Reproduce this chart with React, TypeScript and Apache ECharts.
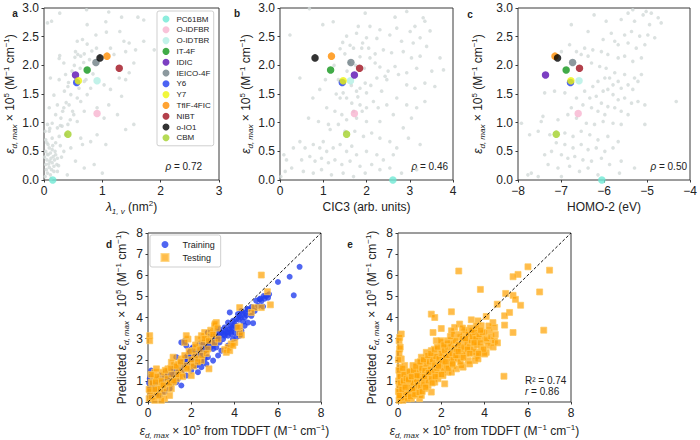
import React, { useEffect, useRef } from 'react';
import * as echarts from 'echarts';

// ---------- data ----------
const molecules = ['PC61BM', 'O-IDFBR', 'O-IDTBR', 'IT-4F', 'IDIC', 'IEICO-4F', 'Y6', 'Y7', 'TfIF-4FIC', 'NIBT', 'o-IO1', 'CBM'];
const epsMax = [0.0, 1.16, 1.73, 1.92, 1.83, 2.05, 1.70, 1.73, 2.16, 1.95, 2.13, 0.80];
const lambda1v = [0.15, 0.91, 0.91, 0.74, 0.54, 0.89, 0.56, 0.59, 1.08, 1.29, 0.96, 0.41];
const cic3 = [2.61, 1.72, 1.63, 1.17, 1.72, 1.64, 1.44, 1.46, 1.19, 1.84, 0.81, 1.54];
const homo2 = [-6.05, -6.60, -6.58, -6.88, -7.36, -6.73, -6.78, -6.77, -7.14, -6.57, -7.08, -7.11];
const moleculeColors = ['#6fe9d5', '#f7b4cf', '#b3efe4', '#12961a', '#5b0fb3', '#6f7f86', '#1f3cf0', '#eef50a', '#ff8c00', '#a0101e', '#000000', '#a3d12a'];

const rhoLabels = ['0.72', '0.46', '0.50'];
const r2Label = '0.74';
const rLabel = '0.86';

const lambdaBackground = [
  [0.27,2.91],[0.73,2.97],[1.11,2.93],[1.33,2.84],[1.61,2.84],[0.06,2.74],[0.13,2.77],[1.06,2.76],[1.71,2.79],[0.74,2.71],[0.89,2.53],[1.07,2.58],[1.30,2.59],[1.71,2.42],[1.89,2.27],[0.57,2.42],[0.66,2.45],[0.74,2.37],[1.37,2.42],[1.46,2.39],[1.57,2.27],[0.27,2.17],[0.26,2.12],[0.54,2.24],[0.58,2.19],[0.63,2.16],[0.69,2.20],[0.53,2.14],[0.34,2.04],[1.14,2.30],[1.20,2.19],[1.40,2.24],[1.54,2.04],[1.46,1.87],[1.29,1.78],[1.40,1.75],[0.11,1.78],[0.26,1.75],[0.37,1.84],[0.41,1.63],[0.46,1.49],[0.69,1.72],[0.80,1.60],[1.03,1.66],[1.14,1.58],[1.33,1.46],[0.57,1.43],[0.63,1.37],[0.74,1.49],[0.17,1.48],[0.09,1.26],[0.23,1.31],[0.34,1.26],[0.43,1.31],[0.49,1.20],[0.51,1.14],[0.29,1.08],[0.20,1.14],[0.57,1.02],[0.69,1.20],[0.91,1.26],[1.11,1.31],[1.03,1.08],[1.26,1.14],[1.40,0.88],[1.54,0.97],[0.06,0.97],[0.14,0.99],[0.23,0.91],[0.31,0.94],[0.41,0.97],[0.37,0.79],[0.26,0.76],[0.14,0.73],[0.09,0.85],[0.03,0.70],[0.63,0.73],[0.66,0.62],[0.80,0.67],[0.91,0.79],[1.06,0.62],[0.46,0.56],[0.34,0.50],[0.54,0.33],[0.69,0.21],[0.86,0.27],[1.00,0.12],[0.40,0.09],[0.23,0.15],[0.03,0.50],[0.07,0.44],[0.11,0.47],[0.16,0.41],[0.20,0.44],[0.05,0.35],[0.10,0.33],[0.14,0.30],[0.18,0.35],[0.23,0.38],[0.03,0.27],[0.09,0.22],[0.13,0.18],[0.17,0.24],[0.06,0.12],[0.02,0.06],[0.11,0.09],[0.17,0.15],[0.22,0.27],[0.09,0.56],[0.14,0.53],[0.07,0.62],[0.01,0.40],[0.04,0.18],[0.12,0.38],[0.08,0.28],[0.19,0.50],[0.15,0.60],[0.05,0.65],[0.02,0.85],[0.10,0.90],[0.20,0.65],[0.28,0.60],[0.30,0.40],[0.25,0.25],[0.12,0.02],[0.06,0.45],[0.35,1.55],[0.42,1.70],[0.48,1.90],[0.52,2.00],[0.62,1.95],[0.68,2.05],[0.78,2.10],[0.82,2.25],[0.90,2.30],[0.95,2.15],[0.72,1.75],[0.84,1.85],[0.60,1.60],[0.55,1.75],[0.38,1.35],[0.32,1.20],[0.45,1.05],[0.28,0.95]
];

const cic3Background = [
  [0.68,2.99],[1.97,2.91],[2.66,2.84],[2.93,2.94],[3.31,2.83],[3.35,2.77],[1.23,2.76],[0.99,2.71],[1.81,2.68],[2.08,2.68],[2.31,2.62],[2.70,2.65],[3.01,2.59],[3.12,2.68],[3.47,2.60],[0.23,2.53],[1.54,2.51],[1.77,2.56],[2.00,2.48],[2.24,2.47],[2.54,2.53],[2.81,2.42],[3.08,2.39],[3.24,2.48],[3.39,2.33],[1.91,2.39],[1.89,2.30],[1.62,2.35],[1.39,2.29],[2.39,2.27],[2.58,2.22],[2.85,2.24],[3.04,2.13],[3.24,2.16],[3.70,2.13],[2.08,2.13],[2.20,2.04],[2.31,1.97],[2.50,1.90],[2.66,1.98],[2.74,1.84],[2.93,1.87],[3.16,1.95],[3.51,1.90],[3.78,1.92],[3.58,1.63],[3.35,1.69],[3.12,1.60],[2.93,1.66],[0.46,1.78],[2.43,1.81],[2.47,1.75],[2.24,1.78],[1.97,1.69],[2.00,1.52],[1.85,1.60],[1.77,1.55],[1.46,1.52],[1.39,1.43],[1.54,1.43],[1.66,1.34],[1.85,1.31],[2.00,1.26],[2.16,1.37],[2.27,1.26],[2.47,1.31],[2.70,1.43],[2.93,1.31],[3.16,1.26],[3.35,1.37],[0.76,1.43],[0.92,1.58],[1.08,1.26],[1.27,1.20],[1.43,1.14],[1.54,1.05],[1.77,1.08],[2.00,1.02],[2.31,1.02],[2.62,1.14],[2.85,0.91],[3.04,1.08],[0.66,1.08],[0.89,1.02],[1.12,0.97],[1.16,0.88],[1.35,0.97],[1.50,0.85],[1.73,0.85],[1.93,0.76],[2.12,0.82],[2.31,0.73],[2.54,0.67],[2.70,0.56],[2.97,0.73],[3.24,0.62],[0.46,0.67],[0.31,0.56],[0.58,0.56],[0.77,0.62],[0.92,0.56],[1.00,0.67],[1.08,0.50],[1.23,0.56],[1.39,0.62],[1.54,0.50],[1.66,0.59],[1.77,0.44],[2.00,0.50],[2.24,0.44],[2.39,0.35],[2.62,0.44],[0.09,0.44],[0.15,0.35],[0.50,0.35],[0.69,0.41],[0.81,0.33],[0.96,0.38],[1.12,0.30],[1.27,0.35],[1.43,0.27],[1.62,0.33],[1.85,0.24],[2.12,0.27],[2.31,0.18],[2.54,0.21],[2.81,0.12],[3.16,0.18],[0.27,0.21],[0.54,0.15],[0.77,0.12],[0.96,0.18],[1.19,0.09],[1.46,0.12],[1.70,0.06],[1.97,0.12],[0.02,0.06],[0.12,0.15],[1.50,2.20],[1.60,2.05],[1.70,2.30],[1.75,2.00],[1.85,2.15],[1.55,1.90],[1.95,1.95],[2.05,2.30],[1.45,2.40],[1.65,1.65],[1.80,1.45],[1.90,1.20],[1.35,1.75],[1.25,2.00],[1.05,1.75],[1.30,1.50],[1.70,1.20],[2.10,1.65],[2.20,2.20],[2.35,1.55]
];

const homo2Background = [
  [-6.23,2.88],[-5.44,2.91],[-5.33,2.97],[-5.09,2.88],[-5.02,2.94],[-4.90,2.91],[-4.74,2.83],[-4.67,2.74],[-6.76,2.71],[-5.95,2.77],[-5.60,2.80],[-5.29,2.77],[-4.94,2.71],[-6.37,2.59],[-5.83,2.56],[-5.52,2.53],[-5.36,2.59],[-5.17,2.51],[-4.98,2.53],[-4.82,2.48],[-6.02,2.45],[-5.75,2.42],[-5.67,2.36],[-5.44,2.39],[-5.25,2.30],[-5.05,2.36],[-6.80,2.36],[-6.45,2.30],[-6.64,2.24],[-6.53,2.19],[-6.37,2.16],[-6.26,2.27],[-6.06,2.24],[-5.91,2.19],[-5.67,2.13],[-5.52,2.16],[-5.33,2.07],[-5.13,2.13],[-6.99,2.24],[-6.29,2.04],[-6.10,1.98],[-5.95,1.95],[-5.75,1.87],[-5.52,1.84],[-5.29,1.78],[-5.13,1.84],[-5.98,1.78],[-5.87,1.78],[-5.79,1.66],[-5.67,1.72],[-5.60,1.60],[-5.44,1.66],[-5.33,1.58],[-5.21,1.72],[-6.14,1.72],[-6.26,1.63],[-6.02,1.55],[-5.91,1.58],[-5.79,1.49],[-5.67,1.40],[-5.52,1.43],[-5.36,1.34],[-5.21,1.37],[-5.05,1.31],[-4.32,1.37],[-6.45,1.55],[-6.33,1.43],[-6.18,1.46],[-6.06,1.34],[-5.91,1.28],[-5.75,1.26],[-5.60,1.20],[-5.44,1.14],[-5.98,1.14],[-6.14,1.20],[-6.29,1.26],[-6.49,1.31],[-6.64,1.43],[-6.76,1.26],[-6.91,1.52],[-7.15,1.55],[-7.38,1.52],[-7.42,1.11],[-7.46,1.02],[-7.07,1.05],[-6.84,1.14],[-6.64,1.08],[-6.41,0.99],[-6.22,0.97],[-6.02,1.02],[-5.79,0.99],[-5.60,0.97],[-5.05,0.97],[-7.92,0.99],[-7.73,0.79],[-7.53,0.85],[-7.26,0.79],[-6.91,0.82],[-6.72,0.76],[-6.53,0.85],[-6.33,0.79],[-6.14,0.70],[-5.91,0.76],[-5.67,0.67],[-7.11,0.65],[-6.91,0.62],[-6.72,0.56],[-6.53,0.62],[-6.37,0.53],[-6.18,0.56],[-5.98,0.50],[-5.79,0.56],[-7.38,0.44],[-7.22,0.50],[-6.99,0.44],[-6.84,0.38],[-6.68,0.41],[-6.49,0.35],[-6.29,0.33],[-6.06,0.38],[-5.87,0.27],[-5.60,0.33],[-7.30,0.27],[-7.07,0.21],[-6.80,0.24],[-6.57,0.15],[-6.37,0.21],[-6.14,0.09],[-7.69,0.12],[-7.53,0.06],[-7.77,0.09],[-5.64,0.12],[-5.29,0.21],[-6.99,0.06]
];

const trainingPoints = [
  [7.01,6.40],[6.55,5.93],[6.74,5.05],[6.01,5.68],[5.36,5.02],[5.16,4.86],[5.32,4.52],[5.47,5.02],[4.62,4.39],[4.86,3.73],[4.47,4.00],[4.39,4.24],[4.24,4.08],[3.78,4.24],[4.08,3.92],[4.47,3.61],[4.24,3.29],[4.01,3.29],[3.85,3.33],[3.93,3.84],[3.70,3.76],[3.55,3.53],[3.39,3.29],[3.24,3.14],[3.08,2.98],[3.31,2.82],[3.01,2.67],[2.77,3.29],[2.85,2.82],[2.70,2.67],[2.62,2.43],[2.47,2.59],[2.31,2.43],[2.47,2.20],[2.16,2.35],[2.00,2.51],[1.85,2.20],[2.00,2.04],[1.70,1.96],[1.54,2.82],[1.77,2.67],[1.62,1.73],[1.46,1.57],[1.31,2.12],[1.23,1.73],[1.08,1.41],[0.92,1.25],[0.77,1.33],[0.62,1.10],[0.46,0.94],[0.31,1.10],[0.15,1.49],[0.08,1.10],[0.23,0.78],[0.39,0.63],[0.69,0.71],[1.00,0.63],[1.39,1.10],[1.54,0.78],[2.31,1.41],[2.24,1.73],[2.47,1.88],[2.62,2.04],[2.77,2.12],[3.01,2.51],[3.16,2.59],[3.47,2.98],[3.62,3.29],[3.78,3.45],[3.93,3.61],[4.08,3.53],[4.16,4.16],[4.32,4.31],[4.55,4.11],[3.85,3.22],[3.70,3.14],[3.55,3.14],[3.16,3.37],[2.93,3.14],[2.70,2.98],[2.54,2.82],[2.39,2.75],[2.08,2.59],[1.93,2.35],[1.77,2.12],[1.54,1.88],[1.39,1.73],[1.16,1.57],[0.85,1.41],[0.54,1.25],[0.39,1.02],[0.15,0.63],[0.08,0.47],[0.28,0.39],[0.54,0.31],[0.77,0.47],[1.08,0.86],[1.31,0.94],[1.77,1.25],[2.00,1.49],[2.16,1.73],[2.47,1.65],[2.70,1.80],[3.01,1.96],[3.24,2.20],[3.39,2.43],[3.70,2.67],[3.93,2.98],[4.08,3.06],[4.24,3.14],[4.32,3.37],[4.62,3.76],[4.78,4.08],[4.93,4.31],[5.09,4.55],[5.24,4.78],[5.55,4.94],[5.39,4.89],
  [0.10,0.30],[0.20,0.60],[0.30,0.80],[0.50,0.60],[0.60,0.90],[0.70,1.00],[0.80,1.10],[0.90,0.90],[1.00,1.20],[1.10,1.00],[1.20,1.30],[1.30,1.50],[1.40,1.40],[1.50,1.60],[1.60,1.50],[1.70,1.80],[1.80,1.90],[1.90,1.70],[2.00,2.10],[2.10,2.00],[2.20,2.20],[2.30,2.10],[2.40,2.30],[2.50,2.40],[2.60,2.60],[2.70,2.50],[2.80,2.70],[2.90,2.60],[3.00,2.90],[3.10,2.80],[3.20,3.00],[3.30,3.10],[3.40,3.30],[3.50,3.20],[3.60,3.40],[3.70,3.30],[3.80,3.60],[3.90,3.50],[4.00,3.70],[4.10,3.60],[4.20,3.90],[4.30,4.00],[4.40,3.80],[4.50,4.20],[4.60,4.40],[4.80,4.50],[5.00,4.80],[5.20,4.90],[5.60,5.10],[0.05,0.90],[0.12,1.20],[0.40,0.40],[1.70,2.90],[3.00,3.10],[3.30,3.45]
];

const testingPointsD = [
  [5.24,6.01],[5.52,5.22],[5.66,4.60],[5.24,4.47],[4.93,4.47],[4.24,3.56],[4.24,3.29],[4.16,3.53],[4.01,2.82],[3.85,2.75],[3.70,2.59],[3.55,2.48],[3.16,3.76],[3.08,3.61],[3.01,3.29],[2.85,3.14],[2.70,2.98],[2.54,2.82],[2.62,3.29],[2.47,3.14],[2.31,2.98],[1.85,2.98],[1.77,3.14],[1.70,2.82],[2.16,2.20],[2.31,2.04],[2.47,1.96],[2.00,1.80],[2.00,1.25],[1.85,1.57],[1.70,1.73],[1.54,1.41],[1.39,1.57],[1.23,1.73],[1.16,2.12],[1.08,1.88],[0.92,1.57],[0.77,1.25],[0.62,1.41],[0.46,1.10],[0.31,1.41],[0.08,3.14],[0.08,2.90],[0.15,0.94],[0.23,0.55],[0.39,0.31],[0.54,0.63],[0.69,0.47],[0.85,0.63],[1.00,0.31],[0.92,0.86],[0.05,0.16],[0.15,0.24],[0.31,0.08],[2.82,1.57],[2.77,2.51],[3.62,2.35],[3.78,2.43],[3.93,2.67],[4.32,3.17],[3.08,2.82],[3.24,2.98],[2.24,2.59],[2.08,2.43],[1.54,2.04],[1.39,1.80],[1.46,1.25],[1.31,1.10],[1.16,0.94],[1.08,0.63],[0.62,0.78],[0.46,0.63],[0.77,0.16],[0.62,0.08],[0.23,1.25],[0.39,1.57],[0.54,0.94],[4.24,4.47],[4.78,4.24],
  [0.10,0.50],[0.20,0.90],[0.30,0.60],[0.40,1.20],[0.50,0.30],[0.60,1.00],[0.70,0.80],[0.80,1.50],[0.90,1.10],[1.00,0.90],[1.10,1.30],[1.20,1.00],[1.30,1.70],[1.40,1.30],[1.50,1.90],[1.60,1.20],[1.70,2.20],[1.80,1.60],[1.90,2.40],[2.00,2.00],[2.10,1.70],[2.20,2.70],[2.30,1.90],[2.40,2.50],[2.50,2.20],[2.60,3.00],[2.70,2.30],[2.80,2.90],[2.90,3.40],[3.00,3.20],[3.10,3.70],[3.20,3.50],[0.05,0.60],[0.15,1.30],[0.35,0.95],[1.05,1.60]
];

const testingPointsE = [
  [7.01,6.24],[6.01,6.40],[5.55,6.04],[5.32,5.93],[6.55,5.21],[6.74,3.40],[5.32,5.05],[4.98,5.14],[5.43,4.86],[5.67,4.58],[5.16,4.24],[4.93,4.08],[4.59,4.63],[4.93,3.64],[5.32,3.29],[4.90,1.22],[3.81,5.33],[2.81,6.20],[2.47,4.27],[1.54,4.16],[1.70,4.00],[2.00,3.48],[0.15,3.22],[0.08,3.06],[0.08,1.65],[4.08,4.05],[4.39,3.76],[4.47,3.53],[4.24,3.37],[3.70,3.84],[3.39,3.89],[2.85,3.69],[2.62,3.53],[2.47,3.37],[4.32,2.82],[4.08,2.90],[4.47,2.90],[4.08,2.35],[3.85,2.59],[3.78,2.35],[3.62,2.20],[3.55,1.96],[3.01,1.65],[2.54,1.73],[2.16,2.04],[2.16,0.86],[1.54,0.47],[1.00,0.16],[0.62,0.16],[0.23,0.31],[1.62,3.29],[1.77,2.90],[2.00,2.82],[1.85,2.51],[1.54,2.43],[1.31,2.35],[1.08,2.12],[0.92,1.88],[0.69,1.73],[0.46,1.41],[0.31,1.10],[0.15,0.78],[0.08,0.47],[0.05,0.08],[0.23,0.08],[0.39,0.63],[0.54,0.86],[0.77,1.10],[0.92,1.25],[1.16,1.41],[1.39,1.65],[1.62,1.80],[1.85,1.96],[2.08,2.20],[2.31,2.35],[2.54,2.51],[2.77,2.67],[3.01,2.82],[3.16,2.98],[3.31,3.14],[3.47,3.29],[3.62,3.45],[3.85,3.61],[3.16,2.59],[2.93,2.35],[2.70,2.20],[2.47,2.04],[2.24,1.80],[2.00,1.65],[1.77,1.41],[1.54,1.25],[1.31,1.10],[1.08,0.94],[0.85,0.71],[0.62,0.55],[0.46,0.31],[1.23,0.63],[1.08,0.31],[1.85,1.10],[2.31,1.41],[2.70,1.57],[3.24,1.96],[3.47,2.35],[3.85,2.98],[4.01,3.29],[3.70,3.06],[3.08,3.29],[2.85,3.06],[2.54,2.90],[2.31,2.75],[2.08,2.59],[1.70,2.27],[1.46,2.12],[1.23,1.96],[1.00,1.73],[0.77,1.49],[0.54,1.25],[0.31,1.73],[0.15,2.04],[0.08,2.51],[0.18,1.41],[0.31,0.78],[0.69,0.31],[0.92,0.47],[1.39,0.78],[1.70,0.94],[2.08,1.25],[2.47,1.41],[2.93,1.73],[3.31,1.80],[3.70,2.04],[4.01,2.27],[4.16,2.67],[3.55,2.82],[1.70,1.65],[1.46,1.49],[1.23,1.33],[1.00,1.10],[0.77,0.86],[0.08,1.25],[0.05,0.78],[0.12,0.16],[0.05,2.90],[0.10,2.60],
  [0.10,0.30],[0.20,0.50],[0.30,0.20],[0.35,0.45],[0.40,0.90],[0.45,0.15],[0.50,0.50],[0.55,0.70],[0.60,1.00],[0.65,0.40],[0.70,0.90],[0.75,0.60],[0.80,1.30],[0.85,1.00],[0.90,0.80],[0.95,1.50],[1.00,1.20],[1.05,0.70],[1.10,1.60],[1.15,1.10],[1.20,0.85],[1.25,1.50],[1.30,1.80],[1.35,1.30],[1.40,1.00],[1.45,1.90],[1.50,1.55],[1.55,1.10],[1.60,2.00],[1.65,1.45],[1.70,1.75],[1.75,2.15],[1.80,1.60],[1.85,1.30],[1.90,2.05],[1.95,1.80],[2.00,2.30],[2.05,1.90],[2.10,1.50],[2.15,2.45],[2.20,2.10],[2.25,1.70],[2.30,2.60],[2.35,2.20],[2.40,1.90],[2.45,2.75],[2.50,2.30],[2.55,2.00],[2.60,2.55],[2.65,2.90],[2.70,2.40],[2.75,2.05],[2.80,2.70],[2.85,3.20],[2.90,2.50],[2.95,2.20],[3.00,3.00],[3.05,2.60],[3.10,3.40],[3.15,2.30],[3.20,2.80],[3.25,3.20],[3.30,2.60],[3.35,3.50],[3.40,2.90],[3.45,3.10],[3.50,2.50],[3.55,3.30],[3.60,3.00],[3.65,2.70],[3.75,3.20],[3.80,2.80],[3.90,3.30],[3.95,2.50],[4.10,3.00],[4.20,3.60],[4.30,3.10],[4.40,2.60],[4.50,3.20],[4.60,2.80],
  [0.02,0.50],[0.03,1.00],[0.04,1.50],[0.02,2.00],[0.05,2.30],[0.06,0.30],[0.10,1.20],[0.12,0.90],[0.18,0.60],[0.22,1.60],[0.25,1.00],[0.28,1.30],[0.33,0.70],[0.38,1.10],[0.42,0.35],[0.48,1.05],[0.52,1.45],[0.58,0.25],[0.62,1.20],[0.68,0.60],[0.72,1.50],[0.78,0.35],[0.82,1.70],[0.88,1.25],[0.98,0.45],[1.02,1.90],[1.12,0.50],[1.18,2.00],[1.22,1.20],[1.28,0.70],[1.38,2.20],[1.42,1.40],[1.52,2.30],[1.58,0.90],[1.68,2.50],[1.72,1.20],[1.82,2.60],[1.88,1.70],[1.98,2.90],[2.02,1.30],[2.12,2.70],[2.18,1.90],[2.28,2.90],[2.32,1.60],[2.42,3.10],[2.52,1.80],[2.58,3.20],[2.68,2.20],[2.78,2.40],[2.88,1.90],[2.98,3.50],[3.02,2.10],[3.12,3.00],[3.22,2.50],[3.32,2.30],[3.42,3.40],[3.52,2.80],[3.62,3.60],[3.72,2.30],[3.82,3.40]
];

// ---------- styling ----------
const FONT = '"Liberation Sans", Arial, Helvetica, sans-serif';
const TEXT = '#222';
const FRAME = '#3a3a3a';
const GRAY_DOT = '#d2dad8';
const BLUE = '#2440ee';
const ORANGE = 'rgba(255,160,0,0.88)';
const ORANGE_EDGE = 'rgba(255,200,90,0.9)';

const richName = {
  i: { fontStyle: 'italic', fontSize: 12, lineHeight: 16, fontFamily: FONT, color: TEXT },
  sub: { fontStyle: 'italic', fontSize: 8, lineHeight: 8, verticalAlign: 'bottom', fontFamily: FONT, color: TEXT },
  sup: { fontSize: 8, lineHeight: 8, verticalAlign: 'top', fontFamily: FONT, color: TEXT },
};

const epsName = '{i|ε}{sub|d, max} × 10{sup|5} (M{sup|−1} cm{sup|−1})';

function axis(gridIndex: number, min: number, max: number, interval: number, name: string, nameGap: number, fmt?: (v: number) => string) {
  return {
    type: 'value',
    gridIndex,
    min,
    max,
    interval,
    name,
    nameLocation: 'middle',
    nameGap,
    nameTextStyle: { fontSize: 12, lineHeight: 16, color: TEXT, fontFamily: FONT, rich: richName },
    axisLine: { show: false },
    axisTick: { show: true, inside: false, length: 2.5, lineStyle: { color: FRAME, width: 1 } },
    axisLabel: {
      fontSize: 12,
      color: TEXT,
      fontFamily: FONT,
      margin: 5,
      formatter: fmt,
    },
    splitLine: { show: false },
  };
}

const fmt1 = (v: number) => v.toFixed(1);
const fmtMinus = (v: number) => (v < 0 ? '−' + Math.abs(v) : String(v));

export default function App() {
  const ref = useRef<HTMLDivElement>(null);

  useEffect(() => {
    if (!ref.current) return;
    const chart = echarts.init(ref.current, undefined, { renderer: 'svg' });

    const grids = [
      { left: 44, top: 8, width: 175, height: 172 },
      { left: 280, top: 8, width: 173, height: 172 },
      { left: 518, top: 8, width: 172, height: 172 },
      { left: 148, top: 233, width: 173, height: 170 },
      { left: 398, top: 233, width: 173, height: 170 },
    ].map((g) => ({ ...g, show: true, borderColor: FRAME, borderWidth: 1, backgroundColor: 'transparent', containLabel: false }));

    const tddftName = epsName.replace(' (M', ' from TDDFT (M');
    const xAxes = [
      axis(0, 0, 3, 1, '{i|λ}{sub|1, v} (nm{sup|2})', 19),
      axis(1, 0, 4, 1, 'CIC3 (arb. units)', 19),
      axis(2, -8, -4, 1, 'HOMO-2 (eV)', 19, fmtMinus),
      axis(3, 0, 8, 2, tddftName, 21),
      axis(4, 0, 8, 2, tddftName, 21),
    ];
    const yAxes = [
      axis(0, 0, 3, 0.5, epsName, 23, fmt1),
      axis(1, 0, 3, 0.5, epsName, 25, fmt1),
      axis(2, 0, 3, 0.5, epsName, 32, fmt1),
      axis(3, 0, 8, 1, 'Predicted ' + epsName, 18),
      axis(4, 0, 8, 1, 'Predicted ' + epsName, 18),
    ];

    const bgSets = [lambdaBackground, cic3Background, homo2Background];
    const featureSets = [lambda1v, cic3, homo2];

    const series: any[] = [];
    bgSets.forEach((set, p) => {
      series.push({
        name: 'library',
        type: 'scatter',
        xAxisIndex: p,
        yAxisIndex: p,
        data: set,
        symbolSize: 3.6,
        itemStyle: { color: GRAY_DOT },
        silent: true,
        z: 1,
      });
    });
    featureSets.forEach((feat, p) => {
      molecules.forEach((m, i) => {
        series.push({
          name: m,
          type: 'scatter',
          xAxisIndex: p,
          yAxisIndex: p,
          data: [[feat[i], epsMax[i]]],
          symbol: 'circle',
          symbolSize: 7.5,
          itemStyle: { color: moleculeColors[i] },
          clip: false,
          z: 3,
        });
      });
    });

    const parity = [[0, 0], [8, 8]];
    series.push({
      name: 'Training',
      type: 'scatter',
      xAxisIndex: 3,
      yAxisIndex: 3,
      data: trainingPoints,
      symbol: 'circle',
      symbolSize: 6,
      itemStyle: { color: BLUE },
      z: 2,
    });
    series.push({
      name: 'Testing',
      type: 'scatter',
      xAxisIndex: 3,
      yAxisIndex: 3,
      data: testingPointsD,
      symbol: 'rect',
      symbolSize: 6,
      itemStyle: { color: ORANGE, borderColor: ORANGE_EDGE, borderWidth: 1 },
      z: 2,
    });
    series.push({
      name: 'Testing',
      type: 'scatter',
      xAxisIndex: 4,
      yAxisIndex: 4,
      data: testingPointsE,
      symbol: 'rect',
      symbolSize: 6,
      itemStyle: { color: ORANGE, borderColor: ORANGE_EDGE, borderWidth: 1 },
      z: 2,
    });
    [3, 4].forEach((p) => {
      series.push({
        name: 'parity',
        type: 'line',
        xAxisIndex: p,
        yAxisIndex: p,
        data: parity,
        symbol: 'none',
        silent: true,
        lineStyle: { color: '#111', width: 1, type: [3, 2] },
        z: 4,
      });
    });

    const richAnno = {
      i: { fontStyle: 'italic', fontSize: 10, fontFamily: FONT, fill: TEXT },
    };
    const letter = (t: string, x: number, y: number) => ({
      type: 'text',
      x,
      y,
      style: { text: t, font: `bold 10px ${FONT}`, fill: TEXT, align: 'center', verticalAlign: 'middle' },
    });
    const rhoX = [202, 448, 687];

    const graphic: any[] = [
      letter('a', 15, 13),
      letter('b', 237, 13),
      letter('c', 470, 14),
      letter('d', 109, 244),
      letter('e', 350, 244),
      ...rhoLabels.map((r, k) => ({
        type: 'text',
        x: rhoX[k],
        y: 166,
        style: { text: '{i|ρ} = ' + r, font: `10px ${FONT}`, fill: TEXT, align: 'right', verticalAlign: 'middle', rich: richAnno },
      })),
      {
        type: 'text',
        x: 525,
        y: 380,
        style: { text: 'R² = ' + r2Label, font: `10px ${FONT}`, fill: TEXT, align: 'left', verticalAlign: 'middle' },
      },
      {
        type: 'text',
        x: 525,
        y: 391,
        style: { text: '{i|r} = ' + rLabel, font: `10px ${FONT}`, fill: TEXT, align: 'left', verticalAlign: 'middle', rich: richAnno },
      },
    ];

    chart.setOption({
      animation: false,
      backgroundColor: '#fff',
      textStyle: { fontFamily: FONT },
      grid: grids,
      xAxis: xAxes,
      yAxis: yAxes,
      legend: [
        {
          data: molecules,
          orient: 'vertical',
          left: 157,
          top: 11,
          padding: [3, 3, 3, 5.5],
          itemWidth: 11,
          itemHeight: 7,
          itemGap: 0.8,
          icon: 'circle',
          selectedMode: false,
          backgroundColor: '#fff',
          borderColor: '#cfcfcf',
          borderWidth: 1,
          borderRadius: 2,
          textStyle: { fontSize: 8, lineHeight: 10, color: TEXT, fontFamily: FONT },
          z: 10,
        },
        {
          data: [
            { name: 'Training', icon: 'circle' },
            { name: 'Testing', icon: 'rect' },
          ],
          orient: 'vertical',
          left: 150,
          top: 235,
          padding: [4, 6, 4, 10.5],
          itemWidth: 7,
          itemHeight: 7,
          itemGap: 2,
          selectedMode: false,
          backgroundColor: '#fff',
          borderColor: '#cfcfcf',
          borderWidth: 1,
          borderRadius: 2,
          textStyle: { fontSize: 9, lineHeight: 11, color: TEXT, fontFamily: FONT, padding: [0, 0, 0, 9] },
          z: 10,
        },
      ],
      series,
      graphic,
    });

    return () => chart.dispose();
  }, []);

  return <div ref={ref} style={{ position: 'fixed', left: 0, top: 0, width: 700, height: 440, background: '#fff' }} />;
}
